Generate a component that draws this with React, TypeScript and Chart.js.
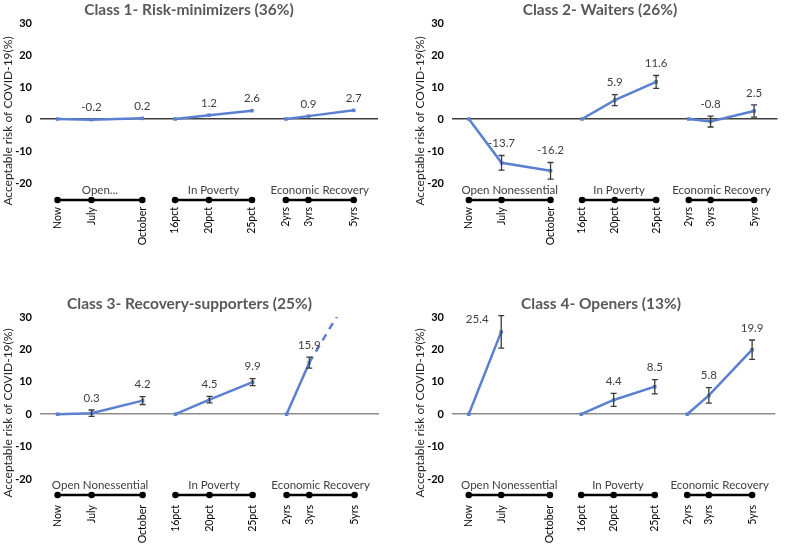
import React, { useEffect, useRef } from 'react';
import { Chart, registerables } from 'chart.js';

Chart.register(...registerables);

// ---------- data ----------
const categories = ['Now', 'July', 'October', '16pct', '20pct', '25pct', '2yrs', '3yrs', '5yrs'];
// relative spacing of the categories along the x axis (as in the original figure)
const xPositions = [0, 3, 7.5, 10.4, 13.4, 17.2, 20.2, 22.2, 26.2];
const groupMembers = [[0, 1, 2], [3, 4, 5], [6, 7, 8]];
const groupNamesShort = ['Open...', 'In Poverty', 'Economic Recovery'];
const groupNames = ['Open Nonessential', 'In Poverty', 'Economic Recovery'];
const yAxisTitle = 'Acceptable risk of COVID-19(%)';

const yMin = -20;
const yMax = 30;
const yStep = 10;

const class1Values = [0, -0.2, 0.2, 0, 1.2, 2.6, 0, 0.9, 2.7];
const class1Errors = [0, 0, 0, 0, 0, 0, 0, 0, 0];

const class2Values = [0, -13.7, -16.2, 0, 5.9, 11.6, 0, -0.8, 2.5];
const class2Errors = [0, 2.3, 2.6, 0, 1.7, 2.0, 0, 1.7, 1.9];

const class3Values = [0, 0.3, 4.2, 0, 4.5, 9.9, 0, 15.9, 39.4];
const class3Errors = [0, 1.0, 1.2, 0, 1.0, 1.1, 0, 1.7, 0];

const class4Values = [0, 25.4, null, 0, 4.4, 8.5, 0, 5.8, 19.9];
const class4Errors = [0, 5.0, 0, 0, 2.0, 2.2, 0, 2.4, 3.0];

// ---------- style ----------
const FONT = 'Lato, "Open Sans", "DejaVu Sans", sans-serif';
const LINE_COLOR = '#5b80d0';
const TEXT_DARK = '#404040';

type PanelProps = {
  title: string;
  values: (number | null)[];
  errors: number[];
  groupLabels: string[];
  left: number;
  top: number;
  width: number;
  height: number;
  padL: number;
  padR: number;
  titleTop: number;
  xAxisHeight: number;
  tickPad: number;
  lineOffset: number;
  yTitleShift: number;
  zeroColor: string;
};

const decorPlugin = {
  id: 'decor',
  afterDatasetsDraw(chart: any, _args: any, opts: any) {
    const { ctx, chartArea } = chart;
    const xs = chart.scales.x;
    const ys = chart.scales.y;
    const values: (number | null)[] = opts.values;
    const errors: number[] = opts.errors;
    ctx.save();
    // error bars
    ctx.strokeStyle = '#3a3a3a';
    ctx.lineWidth = 1.3;
    values.forEach((v, i) => {
      const e = errors[i];
      if (v === null || !e) return;
      const x = xs.getPixelForValue(xPositions[i]);
      const y1 = ys.getPixelForValue(v + e);
      const y2 = ys.getPixelForValue(v - e);
      ctx.beginPath();
      ctx.moveTo(x, y1);
      ctx.lineTo(x, y2);
      ctx.moveTo(x - 3, y1);
      ctx.lineTo(x + 3, y1);
      ctx.moveTo(x - 3, y2);
      ctx.lineTo(x + 3, y2);
      ctx.stroke();
    });
    // data labels
    ctx.fillStyle = TEXT_DARK;
    ctx.font = `11.5px ${FONT}`;
    ctx.textAlign = 'center';
    ctx.textBaseline = 'middle';
    values.forEach((v, i) => {
      if (v === null || v === 0 || v > yMax) return;
      const e = errors[i] || 0;
      const x = xs.getPixelForValue(xPositions[i]);
      let ly = ys.getPixelForValue(v + e) - 12;
      let lx = x;
      if (ly < chartArea.top - 4) {
        ly = chartArea.top + 2;
        lx = x - 24;
      }
      ctx.fillText(v.toFixed(1), lx, ly);
    });
    ctx.restore();
  },
  afterDraw(chart: any, _args: any, opts: any) {
    const { ctx, chartArea } = chart;
    const xs = chart.scales.x;
    const ys = chart.scales.y;
    const lineY = chartArea.bottom + opts.lineOffset;
    ctx.save();
    groupMembers.forEach((members, g) => {
      const px = members.map((i) => xs.getPixelForValue(xPositions[i]));
      const x0 = px[0];
      const x1 = px[px.length - 1];
      ctx.strokeStyle = '#000';
      ctx.lineWidth = 2.5;
      ctx.beginPath();
      ctx.moveTo(x0, lineY);
      ctx.lineTo(x1, lineY);
      ctx.stroke();
      ctx.fillStyle = '#000';
      px.forEach((p) => {
        ctx.beginPath();
        ctx.arc(p, lineY, 3.3, 0, Math.PI * 2);
        ctx.fill();
      });
      ctx.fillStyle = TEXT_DARK;
      ctx.font = `11.5px ${FONT}`;
      ctx.textAlign = 'center';
      ctx.textBaseline = 'middle';
      ctx.fillText(opts.groupLabels[g], (x0 + x1) / 2, lineY - 10);
    });
    // y axis title
    ctx.save();
    ctx.translate(ys.left + 8, (chartArea.top + chartArea.bottom) / 2 + opts.yTitleShift);
    ctx.rotate(-Math.PI / 2);
    ctx.fillStyle = '#262626';
    ctx.font = `12px ${FONT}`;
    ctx.textAlign = 'center';
    ctx.textBaseline = 'middle';
    ctx.fillText(yAxisTitle, 0, 0);
    ctx.restore();
    ctx.restore();
  },
};

function Panel(p: PanelProps) {
  const ref = useRef<HTMLCanvasElement>(null);
  useEffect(() => {
    if (!ref.current) return;
    const datasets = groupMembers.map((members) => ({
      data: members
        .filter((i) => p.values[i] !== null)
        .map((i) => ({ x: xPositions[i], y: p.values[i] as number })),
      borderColor: LINE_COLOR,
      backgroundColor: LINE_COLOR,
      borderWidth: 2.5,
      pointRadius: 2.5,
      pointStyle: 'rect',
      pointBorderWidth: 0,
      tension: 0,
      segment: {
        borderDash: (c: any) => (c.p1.parsed.y > yMax ? [7, 6] : undefined),
      },
    }));
    const chart = new Chart(ref.current, {
      type: 'line',
      data: { datasets },
      plugins: [decorPlugin],
      options: {
        animation: false,
        responsive: false,
        devicePixelRatio: 1,
        layout: { padding: { left: p.padL, right: p.padR, top: 0, bottom: 0 } },
        plugins: {
          legend: { display: false },
          tooltip: { enabled: false },
          title: {
            display: true,
            text: p.title,
            color: '#595959',
            font: { family: FONT, size: 15.5, weight: 'bold', lineHeight: 19 / 15.5 },
            padding: { top: p.titleTop, bottom: 4 },
          },
          decor: {
            values: p.values,
            errors: p.errors,
            groupLabels: p.groupLabels,
            lineOffset: p.lineOffset,
            yTitleShift: p.yTitleShift,
          },
        } as any,
        scales: {
          x: {
            type: 'linear',
            min: -1.55,
            max: 28.35,
            grid: { display: false, drawTicks: false },
            border: { display: false },
            afterBuildTicks: (s: any) => {
              s.ticks = xPositions.map((v) => ({ value: v }));
            },
            afterFit: (s: any) => {
              s.height = p.xAxisHeight;
            },
            ticks: {
              autoSkip: false,
              minRotation: 90,
              maxRotation: 90,
              padding: p.tickPad,
              color: '#000',
              font: { family: FONT, size: 10.5 },
              callback: (_v: any, i: number) => categories[i],
            },
          },
          y: {
            min: yMin,
            max: yMax,
            border: { display: false },
            grid: {
              drawTicks: false,
              lineWidth: 1.5,
              color: (c: any) => (c.tick && c.tick.value === 0 ? p.zeroColor : 'rgba(0,0,0,0)'),
            },
            afterFit: (s: any) => {
              s.width = 40;
            },
            ticks: {
              stepSize: yStep,
              padding: 8,
              color: '#000',
              font: { family: FONT, size: 11, weight: 'bold' },
            },
          },
        },
      } as any,
    });
    return () => chart.destroy();
  }, []);
  return (
    <canvas
      ref={ref}
      width={p.width}
      height={p.height}
      style={{ position: 'absolute', left: p.left, top: p.top, width: p.width, height: p.height }}
    />
  );
}

export default function App() {
  return (
    <div
      style={{
        position: 'fixed',
        left: 0,
        top: 0,
        width: 791,
        height: 544,
        background: '#fff',
        overflow: 'hidden',
      }}
    >
      <Panel
        title="Class 1- Risk-minimizers (36%)"
        values={class1Values}
        errors={class1Errors}
        groupLabels={groupNamesShort}
        left={0}
        top={0}
        width={395}
        height={272}
        padL={0}
        padR={17}
        titleTop={0}
        xAxisHeight={89}
        tickPad={24}
        lineOffset={17}
        yTitleShift={18}
        zeroColor="#3f3f3f"
      />
      <Panel
        title="Class 2- Waiters (26%)"
        values={class2Values}
        errors={class2Errors}
        groupLabels={groupNames}
        left={395}
        top={0}
        width={396}
        height={272}
        padL={17}
        padR={3}
        titleTop={0}
        xAxisHeight={89}
        tickPad={24}
        lineOffset={17}
        yTitleShift={18}
        zeroColor="#3f3f3f"
      />
      <Panel
        title="Class 3- Recovery-supporters (25%)"
        values={class3Values}
        errors={class3Errors}
        groupLabels={groupNames}
        left={0}
        top={272}
        width={395}
        height={272}
        padL={0}
        padR={16}
        titleTop={22}
        xAxisHeight={65}
        tickPad={26}
        lineOffset={16}
        yTitleShift={15}
        zeroColor="#8c8c8c"
      />
      <Panel
        title="Class 4- Openers (13%)"
        values={class4Values}
        errors={class4Errors}
        groupLabels={groupNames}
        left={395}
        top={272}
        width={396}
        height={272}
        padL={17}
        padR={1}
        titleTop={22}
        xAxisHeight={65}
        tickPad={26}
        lineOffset={16}
        yTitleShift={15}
        zeroColor="#8c8c8c"
      />
    </div>
  );
}
